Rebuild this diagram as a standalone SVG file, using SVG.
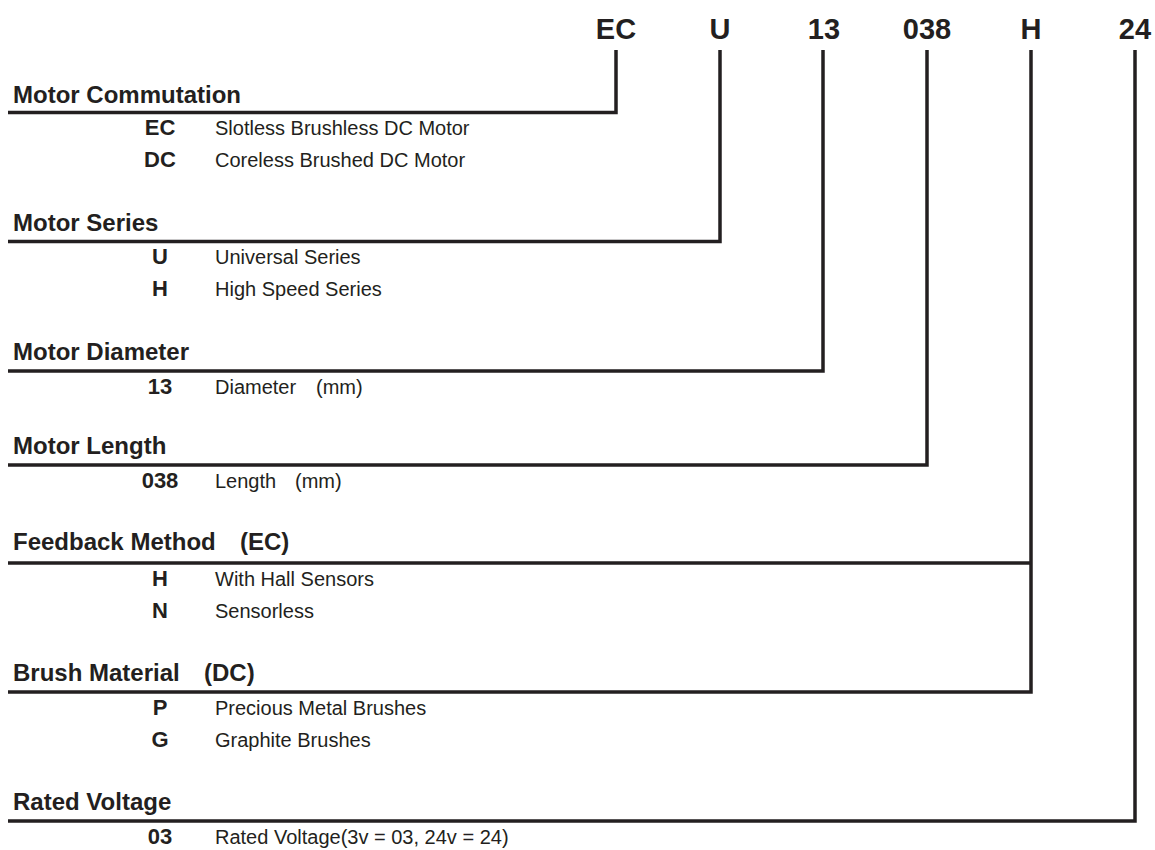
<svg xmlns="http://www.w3.org/2000/svg" width="1155" height="850" viewBox="0 0 1155 850">
<style>
text{font-family:"Liberation Sans",Arial,sans-serif;fill:#231f20}
.code{font-size:29px;font-weight:bold;text-anchor:middle}
.hd{font-size:24px;font-weight:bold}
.sc{font-size:22px;font-weight:bold;text-anchor:middle}
.ds{font-size:20px}
.ln{fill:none;stroke:#231f20;stroke-width:3.5;stroke-linejoin:miter;stroke-linecap:butt}
</style>
<rect width="1155" height="850" fill="#fff"/>
<g id="codes">
<text class="code" x="616" y="39">EC</text>
<text class="code" x="720" y="39">U</text>
<text class="code" x="824" y="39">13</text>
<text class="code" x="927" y="39">038</text>
<text class="code" x="1031" y="39">H</text>
<text class="code" x="1135" y="39">24</text>
</g>
<g id="connectors">
<path class="ln" d="M8,112.5 H616 V50"/>
<path class="ln" d="M8,241.5 H720 V50"/>
<path class="ln" d="M8,371 H823 V50"/>
<path class="ln" d="M8,465 H927 V50"/>
<path class="ln" d="M8,692 H1031 V50"/>
<path class="ln" d="M8,563 H1031"/>
<path class="ln" d="M8,821 H1135 V50"/>
</g>
<g id="commutation">
<text class="hd" x="13" y="103">Motor Commutation</text>
<text class="sc" x="160" y="135">EC</text><text class="ds" x="215" y="135">Slotless Brushless DC Motor</text>
<text class="sc" x="160" y="167">DC</text><text class="ds" x="215" y="167">Coreless Brushed DC Motor</text>
</g>
<g id="series">
<text class="hd" x="13" y="231">Motor Series</text>
<text class="sc" x="160" y="264">U</text><text class="ds" x="215" y="264">Universal Series</text>
<text class="sc" x="160" y="296">H</text><text class="ds" x="215" y="296">High Speed Series</text>
</g>
<g id="diameter">
<text class="hd" x="13" y="360">Motor Diameter</text>
<text class="sc" x="160" y="394">13</text><text class="ds" x="215" y="394">Diameter<tspan x="316">(mm)</tspan></text>
</g>
<g id="length">
<text class="hd" x="13" y="454">Motor Length</text>
<text class="sc" x="160" y="488">038</text><text class="ds" x="215" y="488">Length<tspan x="295">(mm)</tspan></text>
</g>
<g id="feedback">
<text class="hd" x="13" y="550">Feedback Method<tspan x="240">(EC)</tspan></text>
<text class="sc" x="160" y="586">H</text><text class="ds" x="215" y="586">With Hall Sensors</text>
<text class="sc" x="160" y="618">N</text><text class="ds" x="215" y="618">Sensorless</text>
</g>
<g id="brush">
<text class="hd" x="13" y="681">Brush Material<tspan x="204">(DC)</tspan></text>
<text class="sc" x="160" y="715">P</text><text class="ds" x="215" y="715">Precious Metal Brushes</text>
<text class="sc" x="160" y="747">G</text><text class="ds" x="215" y="747">Graphite Brushes</text>
</g>
<g id="voltage">
<text class="hd" x="13" y="810">Rated Voltage</text>
<text class="sc" x="160" y="844">03</text><text class="ds" x="215" y="844">Rated Voltage(3v = 03, 24v = 24)</text>
</g>
</svg>
